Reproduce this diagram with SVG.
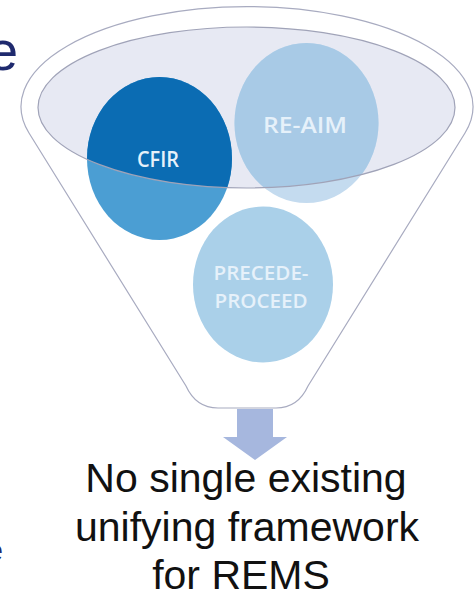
<svg xmlns="http://www.w3.org/2000/svg" width="475" height="593" viewBox="0 0 475 593">
  <defs>
    <clipPath id="rim">
      <ellipse cx="246.5" cy="107.5" rx="208.5" ry="80.5"/>
    </clipPath>
    <style>
      .outline { fill: none; stroke: #a0a3b8; stroke-width: 1.2; }
      .lbl { font-family: "Open Sans", "Liberation Sans", sans-serif; font-weight: 600; fill: #e6f1fa; text-anchor: middle; }
      .big { font-family: "Liberation Sans", Arial, sans-serif; font-size: 41px; fill: #111111; text-anchor: middle; }
      .cut { font-family: "Liberation Sans", Arial, sans-serif; fill: #1f2a6e; text-anchor: end; }
    </style>
  </defs>
  <rect width="475" height="593" fill="#ffffff"/>

  <text class="cut" x="18" y="70" font-size="55">e</text>
  <text class="cut" x="3" y="561" font-size="32">e</text>

  <g id="funnel">
    <path d="M29,133 A226,100 0 1 1 465,133 L308,386 Q298,408 276,408 L218,408 Q196,408 186,386 Z" fill="#ffffff" stroke="#a8abc0" stroke-width="1.2"/>
    <ellipse cx="246.5" cy="107.5" rx="208.5" ry="80.5" fill="#e7e9f3"/>
  </g>

  <g id="re-aim">
    <ellipse cx="306.5" cy="123" rx="72" ry="80" fill="#c4dbef"/>
    <ellipse cx="306.5" cy="123" rx="72" ry="80" fill="#a8cae6" clip-path="url(#rim)"/>
    <text class="lbl" x="305" y="133" font-size="22" textLength="84" lengthAdjust="spacingAndGlyphs">RE-AIM</text>
  </g>

  <g id="cfir">
    <ellipse cx="159.5" cy="158.5" rx="72.5" ry="81.5" fill="#4b9ed3"/>
    <ellipse cx="159.5" cy="158.5" rx="72.5" ry="81.5" fill="#0b6cb3" clip-path="url(#rim)"/>
    <text class="lbl" x="158" y="167" font-size="22" textLength="42" lengthAdjust="spacingAndGlyphs">CFIR</text>
  </g>

  <g id="precede-proceed">
    <ellipse cx="263" cy="284.5" rx="70" ry="78" fill="#aad0e9"/>
    <text class="lbl" x="261" y="280" font-size="20" textLength="95" lengthAdjust="spacingAndGlyphs">PRECEDE-</text>
    <text class="lbl" x="261" y="308" font-size="20" textLength="93" lengthAdjust="spacingAndGlyphs">PROCEED</text>
  </g>

  <ellipse class="outline" cx="246.5" cy="107.5" rx="208.5" ry="80.5"/>

  <g id="connectors">
    <path d="M237,409 L273,409 L273,437 L287,437 L255,460 L223,437 L237,437 Z" fill="#a6b7de"/>
  </g>

  <g id="outcome">
    <text class="big" x="246" y="492">No single existing</text>
    <text class="big" x="247" y="541">unifying framework</text>
    <text class="big" x="241" y="589">for REMS</text>
  </g>
</svg>
